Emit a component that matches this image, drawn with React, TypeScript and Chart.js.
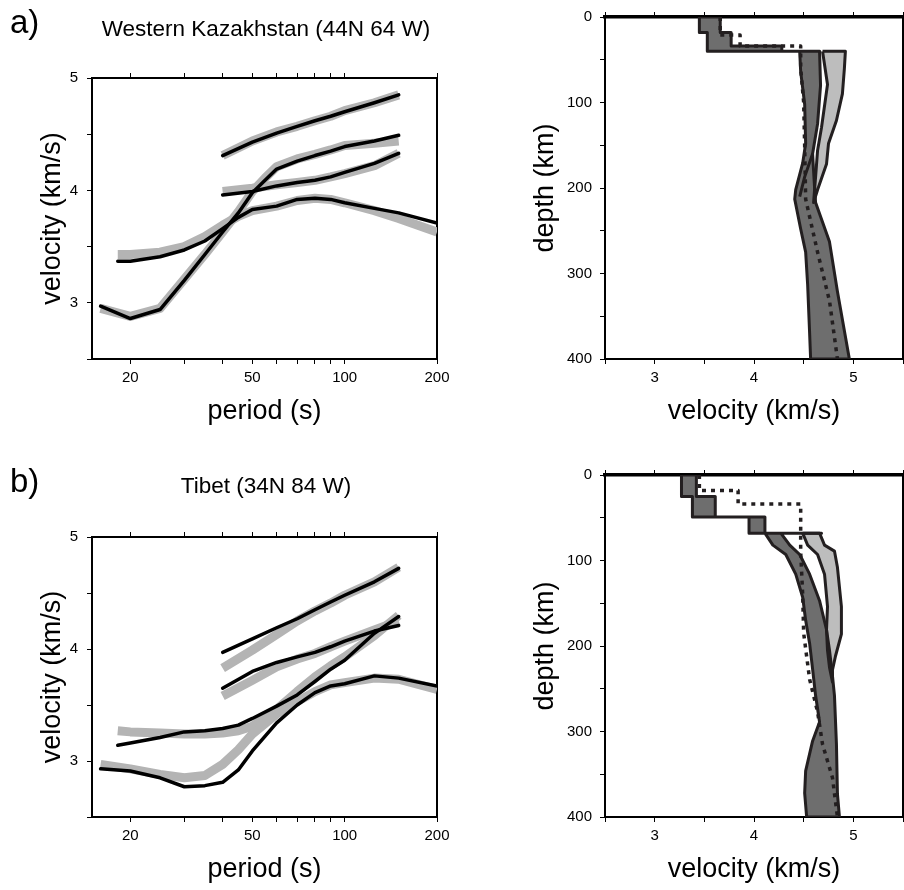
import React, { useEffect, useRef } from 'react';
import { Chart, registerables } from 'chart.js';

Chart.register(...registerables);

const FONT = "'Liberation Sans', Arial, Helvetica, sans-serif";
Chart.defaults.font.family = FONT;

const INK = '#000000';
const OUTLINE = '#231f20';
const BAND_GRAY = '#b4b4b4';
const DARK_FILL = '#6e6e6e';
const LIGHT_FILL = '#bdbdbd';

// ---------- tick labels ----------
const PERIOD_TICKS = [20, 30, 40, 50, 60, 70, 80, 90, 100, 200];
const PERIOD_LABELS = [20, 50, 100, 200];
const VELOCITY_LABELS = [3, 4, 5];
const DEPTH_LABELS = [0, 100, 200, 300, 400];

// ---------- panel a: Western Kazakhstan, dispersion (period s / velocity km/s) ----------
const A_CURVE1_PERIOD = [16, 20, 25, 30, 35, 40, 45, 50, 55, 60, 70, 80, 90, 100, 125, 150];
const A_CURVE1_MODEL = [2.97, 2.86, 2.94, 3.2, 3.43, 3.63, 3.8, 3.98, 4.09, 4.19, 4.26, 4.31, 4.35, 4.39, 4.44, 4.49];
const A_CURVE1_OBS = [2.95, 2.88, 2.95, 3.21, 3.43, 3.63, 3.81, 3.99, 4.11, 4.21, 4.28, 4.32, 4.36, 4.4, 4.42, 4.44];
const A_CURVE2_PERIOD = [18.2, 20, 25, 30, 35, 40, 45, 50, 60, 70, 80, 90, 100, 125, 150, 200];
const A_CURVE2_MODEL = [3.37, 3.37, 3.41, 3.47, 3.55, 3.66, 3.76, 3.83, 3.86, 3.92, 3.93, 3.92, 3.89, 3.84, 3.8, 3.71];
const A_CURVE2_OBS = [3.43, 3.43, 3.45, 3.5, 3.59, 3.69, 3.77, 3.82, 3.86, 3.91, 3.93, 3.92, 3.89, 3.82, 3.75, 3.63];
const A_PHASE_PERIOD = [40, 50, 60, 70, 80, 90, 100, 125, 150];
const A_PHASE1_MODEL = [3.96, 3.99, 4.04, 4.07, 4.09, 4.12, 4.16, 4.24, 4.33];
const A_PHASE1_OBS = [3.99, 4.02, 4.05, 4.07, 4.09, 4.12, 4.15, 4.22, 4.33];
const A_PHASE2_MODEL = [4.31, 4.43, 4.51, 4.57, 4.62, 4.66, 4.7, 4.78, 4.85];
const A_PHASE2_OBS = [4.31, 4.44, 4.52, 4.57, 4.62, 4.66, 4.71, 4.78, 4.85];

// ---------- panel b: Tibet, dispersion ----------
const B_CURVE1_PERIOD = [16, 20, 25, 30, 35, 40, 45, 50, 60, 70, 80, 90, 100, 125, 150, 200];
const B_CURVE1_MODEL = [2.93, 2.91, 2.85, 2.77, 2.78, 2.81, 2.92, 3.09, 3.34, 3.5, 3.61, 3.67, 3.69, 3.76, 3.74, 3.67];
const B_CURVE1_OBS = [2.97, 2.93, 2.88, 2.85, 2.87, 2.97, 3.1, 3.24, 3.42, 3.53, 3.62, 3.68, 3.7, 3.74, 3.73, 3.64];
const B_CURVE2_PERIOD = [18.2, 20, 25, 30, 35, 40, 45, 50, 60, 70, 80, 90, 100, 125, 150];
const B_CURVE2_MODEL = [3.14, 3.16, 3.21, 3.26, 3.27, 3.29, 3.32, 3.38, 3.49, 3.59, 3.71, 3.82, 3.9, 4.14, 4.29];
const B_CURVE2_OBS = [3.27, 3.26, 3.25, 3.24, 3.24, 3.25, 3.27, 3.31, 3.46, 3.62, 3.75, 3.85, 3.93, 4.12, 4.3];
const B_PHASE_PERIOD = [40, 50, 60, 70, 80, 90, 100, 125, 150];
const B_PHASE1_MODEL = [3.65, 3.8, 3.88, 3.93, 3.97, 4.02, 4.07, 4.16, 4.21];
const B_PHASE1_OBS = [3.58, 3.72, 3.84, 3.91, 3.96, 4.02, 4.07, 4.17, 4.25];
const B_PHASE2_MODEL = [3.97, 4.09, 4.19, 4.27, 4.35, 4.42, 4.48, 4.6, 4.72];
const B_PHASE2_OBS = [3.83, 3.99, 4.13, 4.25, 4.34, 4.41, 4.48, 4.6, 4.73];

// ---------- panel a: velocity profiles (velocity km/s, depth km) ----------
const A_DARK_VEL = [3.45, 3.45, 3.53, 3.53, 4.46, 4.47, 4.51, 4.52, 4.49, 4.42, 4.41, 4.47, 4.52, 4.54, 4.56, 4.57,
  4.96, 4.84, 4.76, 4.62, 4.61, 4.59, 4.64, 4.67, 4.66, 4.28, 4.28, 3.77, 3.77, 3.66, 3.66, 3.45];
const A_DARK_DEPTH = [0, 18, 18, 40, 40, 64, 102, 148, 171, 202, 213, 248, 275, 313, 370, 400,
  400, 321, 263, 217, 200, 160, 125, 80, 40, 40, 34, 34, 18, 18, 0, 0];
const A_LIGHT_VEL = [4.69, 4.74, 4.68, 4.64, 4.62, 4.6, 4.64, 4.73, 4.75, 4.83, 4.89, 4.91, 4.92, 4.69];
const A_LIGHT_DEPTH = [40, 79, 129, 156, 187, 217, 202, 172, 148, 121, 90, 60, 40, 40];
const A_EDGE_VEL = [4.59, 4.51, 4.46];
const A_EDGE_DEPTH = [160, 187, 210];
const A_DOT_VEL = [3.66, 3.66, 3.86, 3.86, 4.47, 4.47, 4.5, 4.51, 4.52, 4.64, 4.76, 4.84];
const A_DOT_DEPTH = [0, 21, 21, 34, 34, 60, 100, 150, 213, 275, 332, 400];

// ---------- panel b: velocity profiles ----------
const B_DARK_VEL = [3.27, 3.27, 3.38, 3.38, 3.95, 3.95, 4.11, 4.19, 4.32, 4.42, 4.49, 4.52, 4.56, 4.59, 4.62, 4.66, 4.59, 4.52, 4.51, 4.53,
  4.86, 4.84, 4.83, 4.81, 4.79, 4.76, 4.73, 4.66, 4.56, 4.46, 4.36, 4.27, 4.68, 4.11, 4.11, 3.61, 3.61, 3.42, 3.42, 3.27];
const B_DARK_DEPTH = [0, 25, 25, 49, 49, 68, 68, 82, 93, 116, 143, 170, 197, 227, 258, 289, 311, 346, 372, 400,
  400, 373, 315, 258, 235, 205, 181, 147, 116, 93, 82, 68, 68, 68, 49, 49, 25, 25, 0, 0];
const B_LIGHT_VEL = [4.49, 4.54, 4.64, 4.71, 4.74, 4.73, 4.74, 4.76, 4.79, 4.79, 4.82, 4.88, 4.88, 4.84, 4.81, 4.71, 4.66, 4.49];
const B_LIGHT_DEPTH = [68, 82, 93, 116, 154, 181, 205, 225, 242, 228, 212, 186, 154, 108, 89, 82, 68, 68];
const B_DOT_VEL = [3.45, 3.45, 3.84, 3.84, 4.47, 4.47, 4.49, 4.5, 4.56, 4.64, 4.69, 4.79, 4.84];
const B_DOT_DEPTH = [0, 18, 18, 34, 34, 90, 140, 185, 239, 277, 315, 354, 400];

// ---------- helpers ----------
const pts = (xs: number[], ys: number[]) => xs.map((x, i) => ({ x, y: ys[i] }));

const polygonFill = {
  id: 'polygonFill',
  beforeDatasetsDraw(chart: any) {
    const { ctx, chartArea } = chart;
    ctx.save();
    ctx.beginPath();
    ctx.rect(chartArea.left, chartArea.top, chartArea.right - chartArea.left, chartArea.bottom - chartArea.top);
    ctx.clip();
    const list = chart.data.datasets.map((d: any, i: number) => i).reverse();
    list.forEach((i: number) => {
      const ds: any = chart.data.datasets[i];
      if (!ds.polyFill) return;
      const els = chart.getDatasetMeta(i).data;
      if (!els.length) return;
      ctx.beginPath();
      els.forEach((el: any, j: number) => (j === 0 ? ctx.moveTo(el.x, el.y) : ctx.lineTo(el.x, el.y)));
      ctx.closePath();
      ctx.fillStyle = ds.polyFill;
      ctx.fill();
    });
    ctx.restore();
  },
};

const grid = { display: true, drawOnChartArea: false, drawTicks: true, tickLength: 5, color: INK, lineWidth: 1 };
const border = (w: number) => ({ display: true, color: INK, width: w });
const tickFont = { size: 15, family: FONT };
const titleFont = { size: 27, family: FONT };

type Geo = { yW: number; y2W: number; x2H: number; xH: number; yTitle: number };

function baseOptions() {
  return {
    responsive: false,
    animation: false as const,
    devicePixelRatio: 1,
    events: [] as any[],
    layout: { padding: 0 },
    plugins: { legend: { display: false }, tooltip: { enabled: false }, title: { display: false } },
  };
}

function line(xs: number[], ys: number[], color: string, width: number, extra: any = {}) {
  return {
    data: pts(xs, ys),
    showLine: true,
    borderColor: color,
    backgroundColor: color,
    borderWidth: width,
    pointRadius: 0,
    tension: 0,
    borderJoinStyle: 'round',
    borderCapStyle: 'butt',
    ...extra,
  };
}

function dispersionConfig(models: [number[], number[]][], obs: [number[], number[]][], g: Geo): any {
  const datasets = [
    ...models.map(([p, v]) => line(p, v, INK, 3.5, { borderCapStyle: 'round' })),
    ...obs.map(([p, v]) => line(p, v, BAND_GRAY, 9)),
  ];
  const setTicks = (s: any) => {
    s.ticks = PERIOD_TICKS.map((value) => ({ value }));
  };
  return {
    type: 'scatter',
    data: { datasets },
    options: {
      ...baseOptions(),
      scales: {
        x: {
          type: 'logarithmic', position: 'bottom', min: 15, max: 200,
          afterBuildTicks: setTicks,
          afterFit: (s: any) => { s.height = g.xH; },
          ticks: {
            autoSkip: false, maxRotation: 0, minRotation: 0, padding: 5, color: INK, font: tickFont,
            callback: (v: any) => (PERIOD_LABELS.includes(Number(v)) ? String(v) : ''),
          },
          grid, border: border(2),
          title: { display: true, text: 'period (s)', color: INK, font: titleFont, padding: { top: 0, bottom: g.xH - 53 - 16.2 } },
        },
        x2: {
          type: 'logarithmic', position: 'top', min: 15, max: 200,
          afterBuildTicks: setTicks,
          afterFit: (s: any) => { s.height = g.x2H; },
          ticks: { display: false }, grid, border: border(2),
        },
        y: {
          type: 'linear', position: 'left', min: 2.5, max: 5,
          afterFit: (s: any) => { s.width = g.yW; },
          ticks: {
            stepSize: 0.5, padding: 9, color: INK, font: tickFont,
            callback: (v: any) => (VELOCITY_LABELS.includes(Number(v)) ? String(v) : ''),
          },
          grid, border: border(2),
          title: { display: true, text: 'velocity (km/s)', color: INK, font: titleFont, padding: { top: g.yTitle - 16.2, bottom: 0 } },
        },
        y2: {
          type: 'linear', position: 'right', min: 2.5, max: 5,
          afterFit: (s: any) => { s.width = g.y2W; },
          ticks: { display: false },
          grid: { ...grid, drawTicks: false }, border: border(2),
        },
      },
    },
  };
}

function profileConfig(
  dark: [number[], number[]], light: [number[], number[]], dotted: [number[], number[]],
  edges: [number[], number[]][], g: Geo,
): any {
  // first dataset is drawn on top: outlines above the dotted reference line
  const datasets = [
    ...edges.map(([v, d]) => line(v, d, OUTLINE, 3)),
    line(light[0], light[1], OUTLINE, 3, { polyFill: LIGHT_FILL }),
    line(dark[0], dark[1], OUTLINE, 3, { polyFill: DARK_FILL }),
    line(dotted[0], dotted[1], OUTLINE, 3.5, { borderDash: [4, 5] }),
  ];
  return {
    type: 'scatter',
    data: { datasets },
    plugins: [polygonFill],
    options: {
      ...baseOptions(),
      scales: {
        x: {
          type: 'linear', position: 'bottom', min: 2.5, max: 5.5,
          afterFit: (s: any) => { s.height = g.xH; },
          ticks: {
            stepSize: 0.5, padding: 5, color: INK, font: tickFont, maxRotation: 0, autoSkip: false,
            callback: (v: any) => (VELOCITY_LABELS.includes(Number(v)) ? String(v) : ''),
          },
          grid, border: border(2),
          title: { display: true, text: 'velocity (km/s)', color: INK, font: titleFont, padding: { top: 0, bottom: g.xH - 53 - 16.2 } },
        },
        x2: {
          type: 'linear', position: 'top', min: 2.5, max: 5.5,
          afterFit: (s: any) => { s.height = g.x2H; },
          ticks: { display: false, stepSize: 0.5 }, grid, border: border(3.5),
        },
        y: {
          type: 'linear', position: 'left', min: 0, max: 400, reverse: true,
          afterFit: (s: any) => { s.width = g.yW; },
          ticks: {
            stepSize: 50, padding: 8, color: INK, font: tickFont,
            callback: (v: any) => (DEPTH_LABELS.includes(Number(v)) ? String(v) : ''),
          },
          grid, border: border(2),
          title: { display: true, text: 'depth (km)', color: INK, font: titleFont, padding: { top: g.yTitle - 16.2, bottom: 0 } },
        },
        y2: {
          type: 'linear', position: 'right', min: 0, max: 400, reverse: true,
          afterFit: (s: any) => { s.width = g.y2W; },
          ticks: { display: false },
          grid: { ...grid, drawTicks: false }, border: border(2),
        },
      },
    },
  };
}

function ChartPanel(props: { left: number; top: number; width: number; height: number; make: () => any }) {
  const ref = useRef<HTMLCanvasElement>(null);
  useEffect(() => {
    if (!ref.current) return;
    const chart = new Chart(ref.current, props.make());
    return () => chart.destroy();
  }, []);
  return (
    <canvas
      ref={ref}
      width={props.width}
      height={props.height}
      style={{ position: 'absolute', left: props.left, top: props.top, width: props.width, height: props.height }}
    />
  );
}

const labelStyle = (left: number, top: number, size: number): React.CSSProperties => ({
  position: 'absolute', left, top, fontSize: size, lineHeight: `${size}px`, fontFamily: FONT, color: INK, whiteSpace: 'nowrap',
});

const titleStyle = (top: number): React.CSSProperties => ({
  position: 'absolute', left: 0, width: 532, top, textAlign: 'center', fontSize: 22.5, lineHeight: '22.5px',
  fontFamily: FONT, color: INK, whiteSpace: 'nowrap',
});

export default function App() {
  return (
    <div style={{ position: 'absolute', left: 0, top: 0, width: 904, height: 890, overflow: 'hidden', background: '#ffffff' }}>
      <ChartPanel left={0} top={0} width={460} height={445}
        make={() => dispersionConfig(
          [[A_CURVE1_PERIOD, A_CURVE1_MODEL], [A_CURVE2_PERIOD, A_CURVE2_MODEL], [A_PHASE_PERIOD, A_PHASE1_MODEL], [A_PHASE_PERIOD, A_PHASE2_MODEL]],
          [[A_CURVE1_PERIOD, A_CURVE1_OBS], [A_CURVE2_PERIOD, A_CURVE2_OBS], [A_PHASE_PERIOD, A_PHASE1_OBS], [A_PHASE_PERIOD, A_PHASE2_OBS]],
          { yW: 92, y2W: 23, x2H: 78, xH: 86, yTitle: 53 })} />
      <ChartPanel left={460} top={0} width={448} height={445}
        make={() => profileConfig([A_DARK_VEL, A_DARK_DEPTH], [A_LIGHT_VEL, A_LIGHT_DEPTH], [A_DOT_VEL, A_DOT_DEPTH],
          [[A_EDGE_VEL, A_EDGE_DEPTH]], { yW: 145, y2W: 1, x2H: 11, xH: 86, yTitle: 86 })} />
      <ChartPanel left={0} top={459} width={460} height={431}
        make={() => dispersionConfig(
          [[B_CURVE1_PERIOD, B_CURVE1_MODEL], [B_CURVE2_PERIOD, B_CURVE2_MODEL], [B_PHASE_PERIOD, B_PHASE1_MODEL], [B_PHASE_PERIOD, B_PHASE2_MODEL]],
          [[B_CURVE1_PERIOD, B_CURVE1_OBS], [B_CURVE2_PERIOD, B_CURVE2_OBS], [B_PHASE_PERIOD, B_PHASE1_OBS], [B_PHASE_PERIOD, B_PHASE2_OBS]],
          { yW: 92, y2W: 23, x2H: 78, xH: 73, yTitle: 53 })} />
      <ChartPanel left={460} top={458} width={448} height={432}
        make={() => profileConfig([B_DARK_VEL, B_DARK_DEPTH], [B_LIGHT_VEL, B_LIGHT_DEPTH], [B_DOT_VEL, B_DOT_DEPTH],
          [], { yW: 145, y2W: 1, x2H: 11, xH: 73, yTitle: 86 })} />
      <div style={labelStyle(10, 5.4, 33)}>a)</div>
      <div style={titleStyle(17.6)}>Western Kazakhstan (44N 64 W)</div>
      <div style={labelStyle(10, 463.8, 33)}>b)</div>
      <div style={titleStyle(475.3)}>Tibet (34N 84 W)</div>
    </div>
  );
}
